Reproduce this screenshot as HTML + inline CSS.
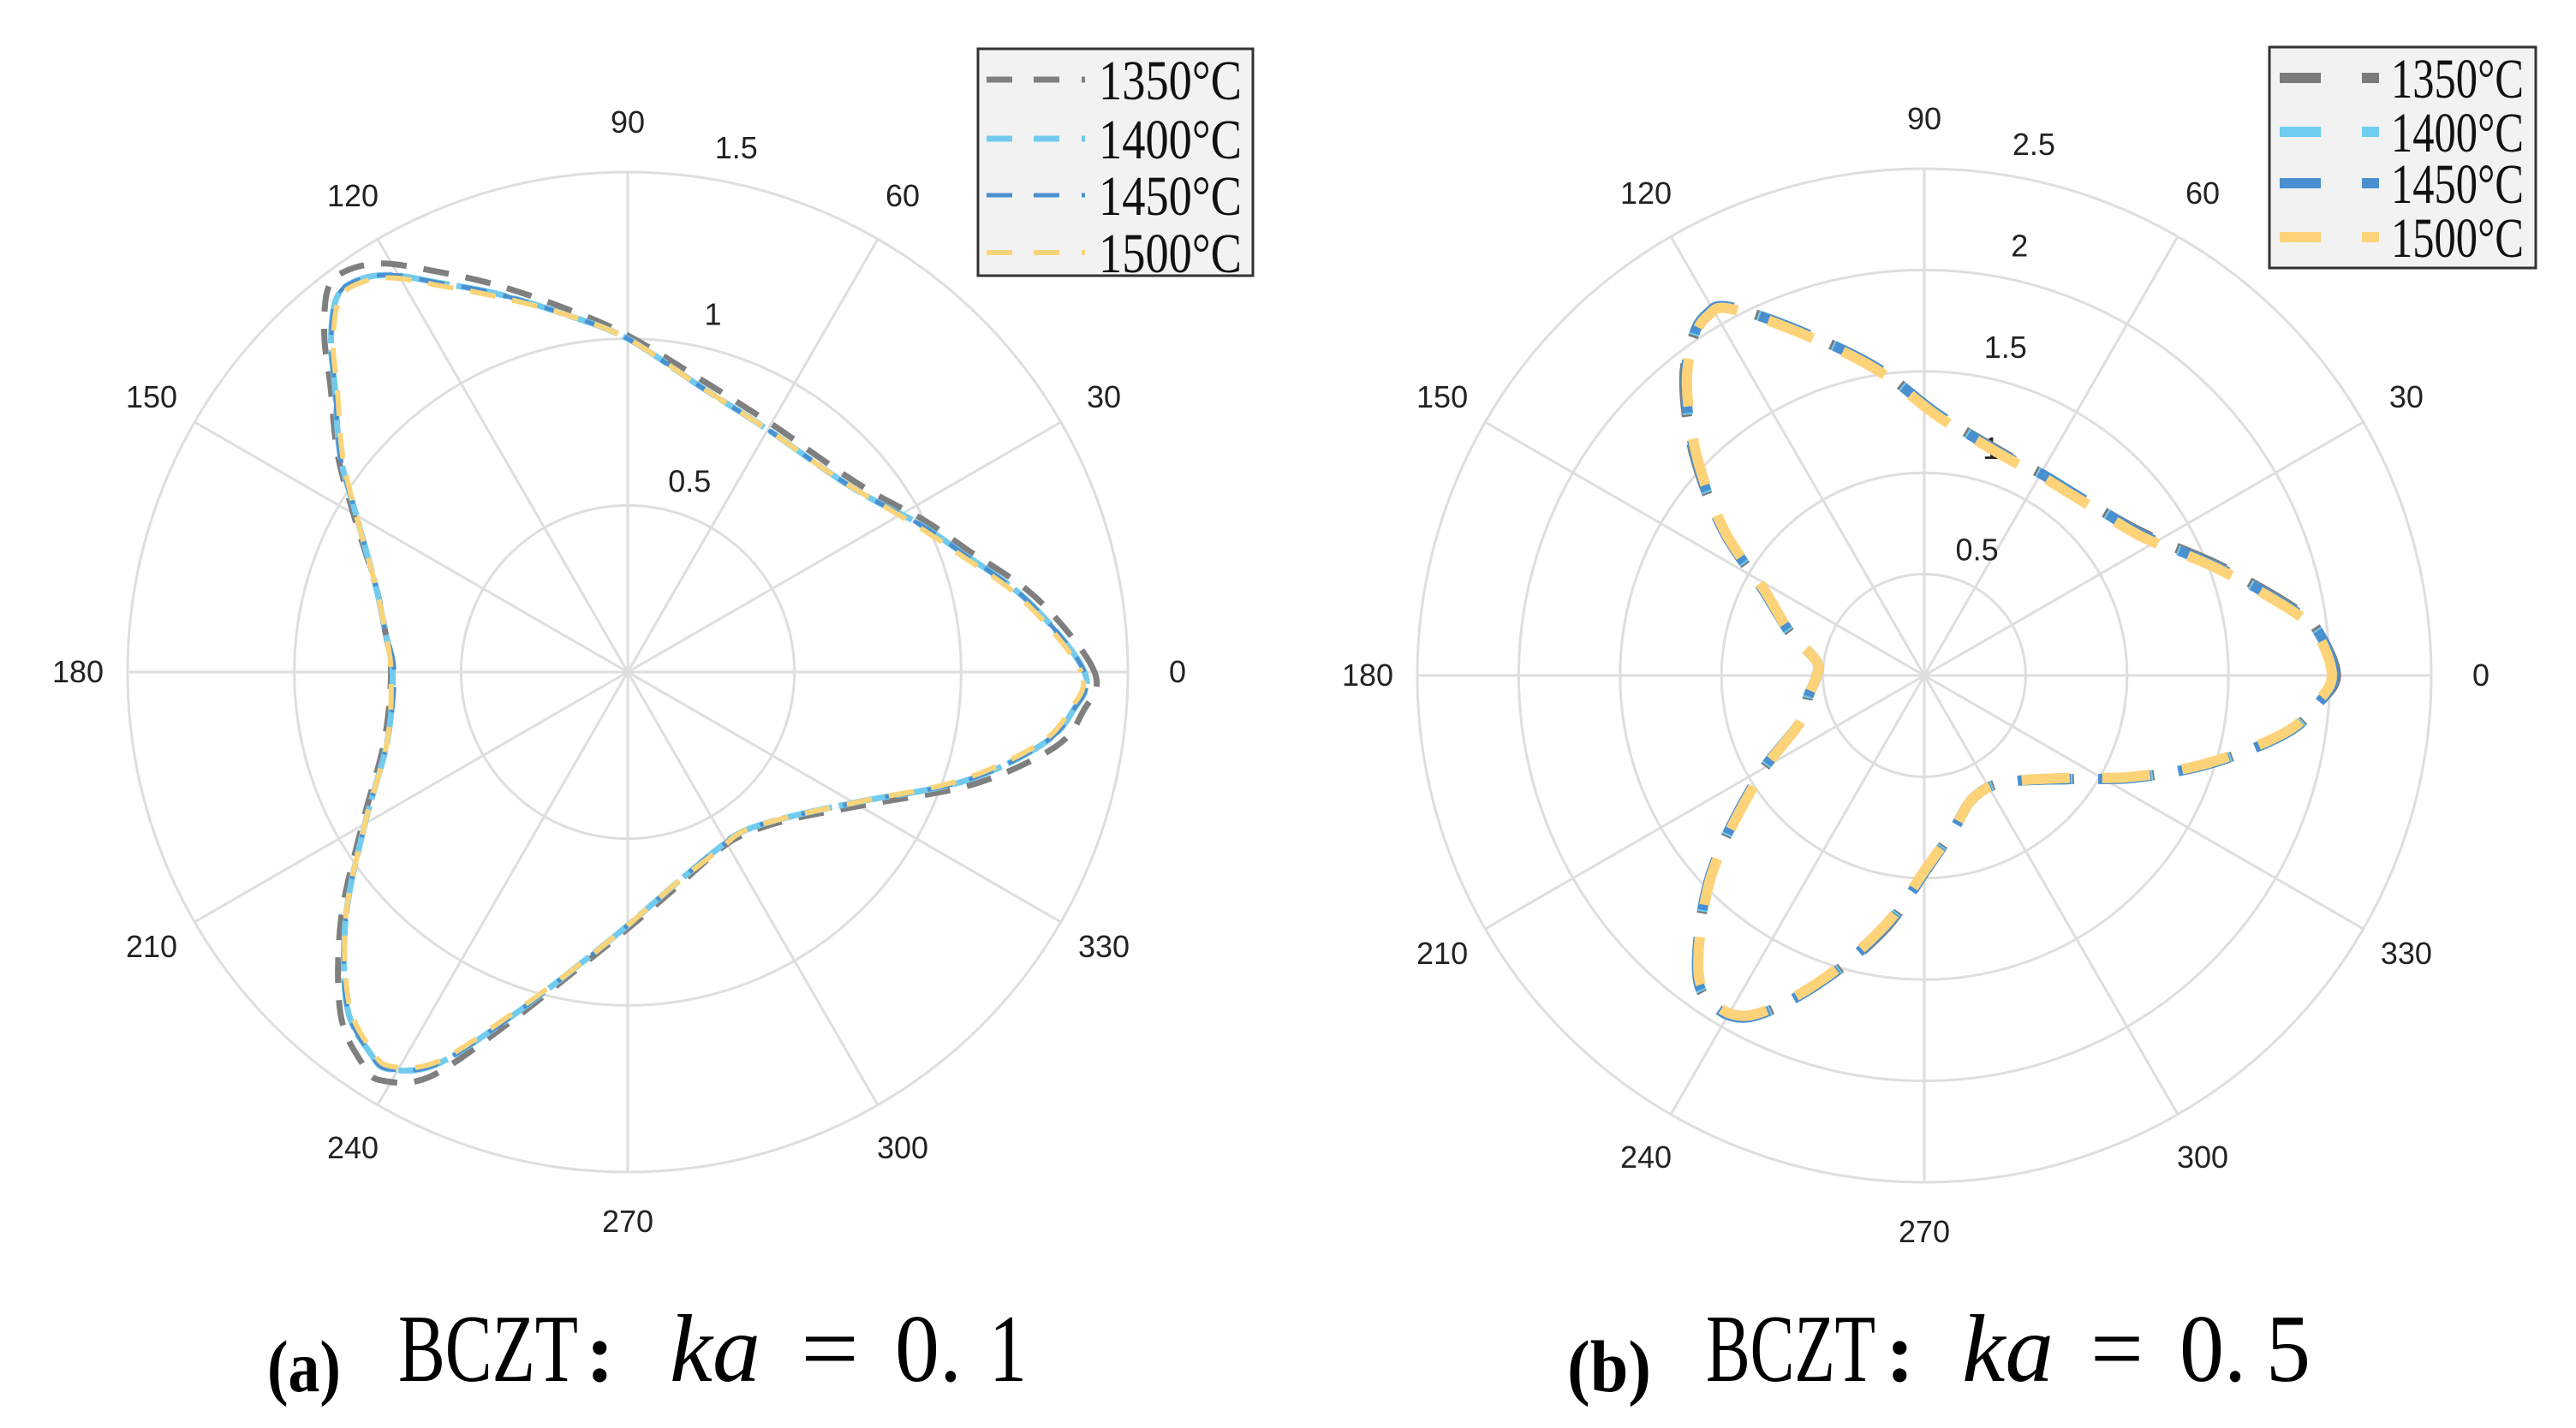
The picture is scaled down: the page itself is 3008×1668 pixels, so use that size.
<!DOCTYPE html>
<html><head><meta charset="utf-8"><style>
html,body{margin:0;padding:0;background:#fff;}
svg{display:block;}
</style></head><body>
<svg id="fig" width="3008" height="1668" viewBox="0 0 3008 1668" xmlns="http://www.w3.org/2000/svg">
<g id="chartA"></g>
<g id="chartB"></g>
<g style="font-family:'Liberation Serif',serif" fill="#000">
<text x="312" y="1625" font-size="86" font-weight="bold" textLength="86" lengthAdjust="spacingAndGlyphs">(a)</text>
<text x="465" y="1613" font-size="112" textLength="210" lengthAdjust="spacingAndGlyphs">BCZT</text>
<text x="684" y="1613" font-size="100" font-weight="bold">:</text>
<text x="782" y="1613" font-size="112" font-style="italic" textLength="106" lengthAdjust="spacingAndGlyphs">ka</text>
<text x="935" y="1613" font-size="112" textLength="68" lengthAdjust="spacingAndGlyphs">=</text>
<text x="1045" y="1613" font-size="112" textLength="78" lengthAdjust="spacingAndGlyphs">0.</text>
<text x="1155" y="1613" font-size="112" textLength="44" lengthAdjust="spacingAndGlyphs">1</text>
</g>
<g style="font-family:'Liberation Serif',serif" fill="#000">
<text x="1830" y="1625" font-size="86" font-weight="bold" textLength="98" lengthAdjust="spacingAndGlyphs">(b)</text>
<text x="1992" y="1613" font-size="112" textLength="198" lengthAdjust="spacingAndGlyphs">BCZT</text>
<text x="2202" y="1613" font-size="100" font-weight="bold">:</text>
<text x="2291" y="1613" font-size="112" font-style="italic" textLength="107" lengthAdjust="spacingAndGlyphs">ka</text>
<text x="2441" y="1613" font-size="112" textLength="62" lengthAdjust="spacingAndGlyphs">=</text>
<text x="2545" y="1613" font-size="112" textLength="78" lengthAdjust="spacingAndGlyphs">0.</text>
<text x="2646" y="1613" font-size="112" textLength="52" lengthAdjust="spacingAndGlyphs">5</text>
</g>
</svg>
<script>
// ---- Chart A data (ka = 0.1) ----
const anglesA = [0,10,20,27,35,42,50,60,75,90,100,109,116,121,125,128,132,136,143,150,161,170,180,196,210,221,230,236,239,244,251,260,270,283,297,306,318,331,342,350,355];
const a1350 = [1.40,1.25,1.08,1.00,0.92,0.88,0.86,0.86,0.90,1.01,1.11,1.23,1.34,1.43,1.47,1.46,1.36,1.24,1.09,0.95,0.80,0.74,0.71,0.76,0.92,1.14,1.34,1.42,1.43,1.35,1.12,0.91,0.77,0.66,0.60,0.60,0.66,0.82,1.09,1.30,1.37];
const a1400 = [1.37,1.22,1.06,0.98,0.90,0.86,0.84,0.84,0.88,1.00,1.09,1.20,1.30,1.39,1.43,1.42,1.33,1.22,1.08,0.94,0.80,0.74,0.705,0.75,0.91,1.12,1.31,1.38,1.39,1.31,1.10,0.90,0.76,0.65,0.595,0.59,0.65,0.80,1.06,1.26,1.34];
const a1450 = [1.37,1.22,1.06,0.98,0.90,0.86,0.84,0.84,0.88,1.00,1.09,1.20,1.30,1.39,1.43,1.42,1.33,1.22,1.08,0.94,0.80,0.74,0.70,0.75,0.91,1.12,1.31,1.38,1.39,1.31,1.10,0.90,0.76,0.65,0.595,0.59,0.65,0.80,1.06,1.26,1.34];
const a1500 = [1.36,1.21,1.05,0.97,0.90,0.86,0.84,0.84,0.88,1.00,1.09,1.19,1.29,1.38,1.42,1.41,1.32,1.21,1.07,0.94,0.80,0.74,0.71,0.75,0.91,1.12,1.30,1.37,1.38,1.30,1.09,0.90,0.76,0.65,0.60,0.59,0.65,0.80,1.05,1.25,1.33];
const rTicksA = [0.5,1,1.5];
// ---- Chart B data (ka = 0.5) ----
const anglesB = [0,6,10,20,32,42,51,60,70,87,99,110,118,121,124,129,136,144,152,162,172,180,190,201,212,223,232,237,243,251,261,271,281,292,307,325,334,343,351,356];
const b1350 = [2.03,1.96,1.86,1.56,1.30,1.20,1.16,1.15,1.16,1.29,1.54,1.81,2.06,2.08,2.03,1.88,1.58,1.23,0.90,0.70,0.54,0.53,0.58,0.66,0.98,1.44,1.82,1.93,1.89,1.61,1.27,0.95,0.77,0.65,0.66,0.89,1.15,1.48,1.81,1.95];
const b1400 = [2.02,1.96,1.85,1.55,1.29,1.20,1.16,1.15,1.155,1.29,1.54,1.81,2.06,2.08,2.03,1.87,1.57,1.23,0.90,0.70,0.54,0.53,0.58,0.66,0.98,1.44,1.82,1.93,1.89,1.61,1.26,0.95,0.77,0.65,0.66,0.89,1.15,1.48,1.81,1.95];
const b1450 = [2.02,1.96,1.85,1.55,1.29,1.20,1.16,1.15,1.155,1.29,1.54,1.81,2.06,2.08,2.03,1.87,1.57,1.23,0.90,0.70,0.54,0.53,0.58,0.66,0.98,1.44,1.82,1.93,1.89,1.61,1.26,0.95,0.77,0.65,0.66,0.89,1.15,1.48,1.81,1.95];
const b1500 = [2.01,1.95,1.84,1.54,1.28,1.19,1.15,1.14,1.15,1.28,1.53,1.80,2.05,2.07,2.02,1.86,1.56,1.22,0.89,0.70,0.54,0.53,0.58,0.66,0.97,1.43,1.81,1.92,1.88,1.60,1.25,0.94,0.77,0.65,0.66,0.88,1.14,1.47,1.80,1.94];
const rTicksB = [0.5,1,1.5,2,2.5];
const angleTicks = [0,30,60,90,120,150,180,210,240,270,300,330];
const seriesNames = ['1350°C','1400°C','1450°C','1500°C'];

const NS='http://www.w3.org/2000/svg';
function mk(tag, attrs, parent){const e=document.createElementNS(NS,tag);for(const k in attrs)e.setAttribute(k,attrs[k]);parent.appendChild(e);return e;}

function polar(g, cx, cy, R, rmax, rTicks, angles, series, styles, legend){
  const s = R/rmax;
  const px = (ang,r)=>[cx + r*s*Math.cos(ang*Math.PI/180), cy - r*s*Math.sin(ang*Math.PI/180)];
  rTicks.forEach(t=>{
    const c=mk('circle',{cx:cx,cy:cy,r:t*s,fill:'none',stroke:'#dedede','stroke-width':3},g);
    
    
  });
  angleTicks.forEach(a=>{
    const p=px(a,rmax);
    const l=mk('line',{x1:cx,y1:cy,x2:p[0],y2:p[1],stroke:'#dedede','stroke-width':3},g);
    
    
    const q=[cx+(R+58)*Math.cos(a*Math.PI/180), cy-(R+58)*Math.sin(a*Math.PI/180)];
    const t=mk('text',{x:q[0],y:q[1]+12,'text-anchor':'middle','font-family':'Liberation Sans, sans-serif','font-size':36,fill:'#222'},g);
    t.textContent=String(a);
    
    
  });
  rTicks.forEach(tv=>{
    const rp=tv*s;
    const t=mk('text',{x:cx+0.14*rp+45,y:cy-rp-28+12,'text-anchor':'middle','font-family':'Liberation Sans, sans-serif','font-size':36,fill:'#222'},g);
    t.textContent=String(tv);
    
    
  });
  series.forEach((vals,i)=>{
    const pts=angles.map((a,j)=>px(a,vals[j]));
    const n=pts.length; let d='M'+pts[0][0].toFixed(1)+','+pts[0][1].toFixed(1);
    for(let j=0;j<n;j++){
      const p0=pts[(j-1+n)%n],p1=pts[j],p2=pts[(j+1)%n],p3=pts[(j+2)%n];
      const c1=[p1[0]+(p2[0]-p0[0])/6,p1[1]+(p2[1]-p0[1])/6];
      const c2=[p2[0]-(p3[0]-p1[0])/6,p2[1]-(p3[1]-p1[1])/6];
      d+=' C'+c1[0].toFixed(1)+','+c1[1].toFixed(1)+' '+c2[0].toFixed(1)+','+c2[1].toFixed(1)+' '+p2[0].toFixed(1)+','+p2[1].toFixed(1);
    }
    const st=styles[i];
    const path=mk('path',{d:d,fill:'none',stroke:st.c,'stroke-width':st.w,'stroke-dasharray':st.da,'stroke-dashoffset':st.off||0,'stroke-linejoin':'round'},g);
    
    
  });
  const L=legend;
  const box=mk('rect',{x:L.x,y:L.y,width:L.w,height:L.h,fill:'#f2f2f2',stroke:'#333','stroke-width':3},g);
  
  
  seriesNames.forEach((nm,i)=>{
    const y=L.rows[i];
    const st=styles[i];
    L.segs.forEach(sg=>{
      const l=mk('line',{x1:sg[0],y1:y,x2:sg[1],y2:y,stroke:st.c,'stroke-width':st.w},g);
      
      
    });
    const t=mk('text',{x:L.tx,y:y+23,style:"font-family:'Liberation Serif',serif",'font-size':66,fill:'#111',textLength:L.tw,lengthAdjust:'spacingAndGlyphs'},g);
    t.textContent=nm;
    
    
  });
}

polar(document.getElementById('chartA'),733,785,584,1.5,rTicksA,anglesA,[a1350,a1400,a1450,a1500],
  [{c:'#7f7f7f',w:7,da:'30 20'},{c:'#72cbee',w:7,da:'60 8'},{c:'#4a8fd0',w:5,da:'30 20',off:10},{c:'#fad47a',w:6,da:'30 20',off:25}],
  {x:1142,y:57,w:321,h:265,rows:[93,162,228,295],segs:[[1152,1182],[1207,1237],[1263,1267]],tx:1283,tw:167});
polar(document.getElementById('chartB'),2247,789,592,2.5,rTicksB,anglesB,[b1350,b1400,b1450,b1500],
  [{c:'#7a7a7a',w:12,da:'62 32'},{c:'#6fcdf0',w:12,da:'62 32',off:4},{c:'#4a8fd0',w:12,da:'62 32',off:6},{c:'#fdd37a',w:12,da:'56 38',off:14}],
  {x:2650,y:55,w:311,h:258,rows:[91,154,214,277],segs:[[2662,2710],[2758,2778]],tx:2792,tw:155});
</script>
</body></html>
